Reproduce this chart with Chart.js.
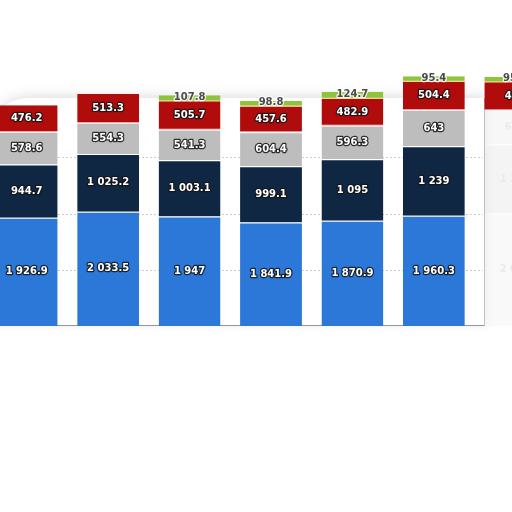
<!DOCTYPE html>
<html>
<head>
<meta charset="utf-8">
<script src="https://cdn.jsdelivr.net/npm/chart.js@4.4.1/dist/chart.umd.min.js"></script>
<style>
    html, body { margin: 0; padding: 0; background: #ffffff; overflow: hidden; width: 512px; height: 512px; }
    #card {
        position: absolute; left: -12px; top: 98px; width: 496px; height: 227px;
        background: #ffffff;
        box-shadow: 0 -5px 12px rgba(0, 0, 0, 0.07), 4px 0 8px rgba(0, 0, 0, 0.06);
        border-radius: 40px 0 0 0;
        border-right: 1px solid #a5adb6; border-bottom: 1px solid #8f969e;
    }
    #wrap { position: absolute; left: -14px; top: 0; width: 570px; height: 330px; }
</style>
</head>
<body>
<div id="card"></div>
<div id="wrap"><canvas id="chart" width="570" height="330"></canvas></div>
<script>
// Categories are not printed in the picture (the axis is cropped off)
const categories = ['1', '2', '3', '4', '5', '6', '7'];

// Stack segments, bottom to top
const blueValues  = [1926.9, 2033.5, 1947, 1841.9, 1870.9, 1960.3, 2000];
const navyValues  = [944.7, 1025.2, 1003.1, 999.1, 1095, 1239, 1230];
const grayValues  = [578.6, 554.3, 541.3, 604.4, 596.3, 643, 610];
const redValues   = [476.2, 513.3, 505.7, 457.6, 482.9, 504.4, 496];
const greenValues = [null, null, 107.8, 98.8, 124.7, 95.4, 95.6];

const gridValues = [1000, 2000, 3000];

// the last bar sits outside the card and is washed out below the red part
const fadedIndex = 6;

function fmt(v) {
    const parts = String(v).split('.');
    const intPart = parts[0].replace(/\B(?=(\d{3})+(?!\d))/g, ' ');
    return parts[1] ? intPart + '.' + parts[1] : intPart;
}

function colorsFor(color, faded) {
    return categories.map((c, i) => i === fadedIndex ? faded : color);
}

const gridPlugin = {
    id: 'dottedGrid',
    beforeDatasetsDraw(chart) {
        const ctx = chart.ctx;
        const y = chart.scales.y;
        ctx.save();
        ctx.strokeStyle = '#cccccc';
        ctx.lineWidth = 1;
        ctx.setLineDash([2, 2]);
        gridValues.forEach(v => {
            const py = Math.round(y.getPixelForValue(v)) + 0.5;
            ctx.beginPath();
            ctx.moveTo(0, py);
            ctx.lineTo(497, py);
            ctx.stroke();
        });
        ctx.restore();
    }
};

const labelPlugin = {
    id: 'segmentLabels',
    afterDatasetsDraw(chart) {
        const ctx = chart.ctx;
        ctx.save();
        ctx.textAlign = 'center';
        ctx.textBaseline = 'middle';
        ctx.font = 'bold 10px "DejaVu Sans"';
        ctx.lineJoin = 'round';
        chart.data.datasets.forEach((ds, di) => {
            const meta = chart.getDatasetMeta(di);
            meta.data.forEach((bar, i) => {
                const v = ds.data[i];
                if (v === null || v === undefined) return;
                const cy = (bar.y + bar.base) / 2;
                const text = fmt(v);
                const isGreen = ds.label === 'green';
                const faded = i === fadedIndex && (ds.label === 'blue' || ds.label === 'navy' || ds.label === 'gray');
                if (faded) {
                    ctx.fillStyle = '#ebebeb';
                    ctx.fillText(text, bar.x, cy);
                    return;
                }
                if (isGreen) {
                    ctx.lineWidth = 2.5;
                    ctx.strokeStyle = 'rgba(255,255,255,0.85)';
                    ctx.strokeText(text, bar.x, cy - 1);
                    ctx.fillStyle = '#4a4a4a';
                    ctx.fillText(text, bar.x, cy - 1);
                } else {
                    ctx.lineWidth = 2.5;
                    ctx.strokeStyle = 'rgba(20,20,20,0.85)';
                    ctx.strokeText(text, bar.x, cy);
                    ctx.fillStyle = '#ffffff';
                    ctx.fillText(text, bar.x, cy);
                }
            });
        });
        ctx.restore();
    }
};

const ctx = document.getElementById('chart').getContext('2d');
new Chart(ctx, {
    type: 'bar',
    data: {
        labels: categories,
        datasets: [
            { label: 'blue', data: blueValues, backgroundColor: colorsFor('#2b78d8', 'rgba(246,246,246,0.7)'),
              borderColor: '#ffffff', borderWidth: { top: 1 }, borderSkipped: false },
            { label: 'navy', data: navyValues, backgroundColor: colorsFor('#0f2742', 'rgba(240,240,240,0.7)'),
              borderColor: '#ffffff', borderWidth: { top: 1 }, borderSkipped: false },
            { label: 'gray', data: grayValues, backgroundColor: colorsFor('#bdbdbd', 'rgba(244,244,244,0.7)'),
              borderColor: '#f2f2f2', borderWidth: { top: 1 }, borderSkipped: false },
            { label: 'red', data: redValues, backgroundColor: '#b10c0c',
              borderColor: '#f3a0a0', borderWidth: { bottom: 1 }, borderSkipped: false },
            { label: 'green', data: greenValues, backgroundColor: '#8cc43c',
              borderColor: '#e8d640', borderWidth: { bottom: 1 }, borderSkipped: false }
        ]
    },
    options: {
        responsive: false,
        animation: false,
        events: [],
        layout: { padding: { top: 0, bottom: 4, left: 0, right: 0 } },
        datasets: {
            bar: { categoryPercentage: 0.76, barPercentage: 1 }
        },
        plugins: {
            legend: { display: false },
            tooltip: { enabled: false }
        },
        scales: {
            x: { stacked: true, display: false },
            y: { stacked: true, display: false, min: 0, max: 5800 }
        }
    },
    plugins: [gridPlugin, labelPlugin]
});
</script>
</body>
</html>
